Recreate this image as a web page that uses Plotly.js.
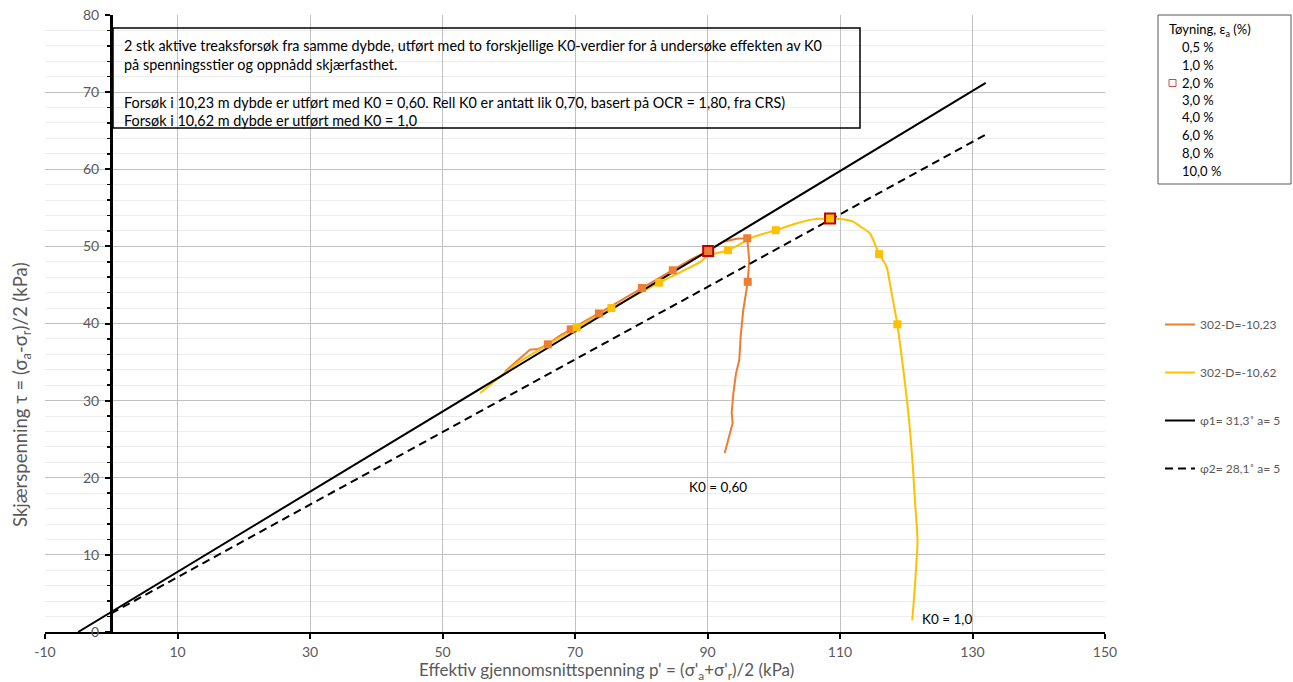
<!DOCTYPE html>
<html>
<head>
<meta charset="utf-8">
<script src="https://cdn.plot.ly/plotly-3.0.1.min.js"></script>
<style>html,body{margin:0;padding:0;background:#fff;}#chart{width:1293px;height:682px;}</style>
</head>
<body>
<div id="chart"></div>
<script>
// ---- Data ----
// 302-D=-10,23 (K0 = 0,60) stress path
const orangeP = [92.6, 93.8, 93.65, 93.9, 94.3, 94.8, 95.0, 95.4, 96.07, 96.3, 96.0, 94.4, 92.4, 90.1, 87.5, 84.75, 82.5, 80.1, 77.0, 73.6, 71.5, 69.35, 67.5, 65.9, 64.5, 63.2, 61.4, 59.4];
const orangeT = [23.2, 27.1, 28.4, 30.9, 33.5, 35.3, 38.3, 41.75, 45.4, 48.2, 51.05, 51.0, 50.6, 49.4, 48.3, 46.9, 45.8, 44.6, 43.0, 41.3, 40.3, 39.25, 38.3, 37.3, 36.7, 36.6, 35.3, 33.75];
// 302-D=-10,62 (K0 = 1,0) stress path
const yellowP = [120.9, 121.3, 121.7, 121.3, 121.0, 120.6, 120.1, 119.5, 118.65, 117.8, 117.0, 115.9, 114.5, 113.0, 112.0, 110.0, 108.5, 106.0, 103.5, 100.3, 96.9, 93.1, 90.1, 88.9, 86.0, 82.7, 79.0, 75.5, 73.0, 70.25, 66.0, 61.2, 58.0, 55.7];
const yellowT = [1.5, 5.9, 11.9, 17.1, 21.4, 25.8, 30.1, 34.4, 39.9, 43.9, 47.4, 49.0, 51.7, 52.6, 53.2, 53.55, 53.6, 53.5, 53.0, 52.1, 51.2, 49.5, 48.8, 48.0, 46.7, 45.3, 43.6, 42.0, 40.8, 39.5, 37.3, 34.8, 32.6, 31.0];
// strain levels (Tøyning, εa %)
const strainLabels = ["0,5 %", "1,0 %", "2,0 %", "3,0 %", "4,0 %", "6,0 %", "8,0 %", "10,0 %"];
const orangeMarkP = [96.07, 96.0, 90.1, 84.75, 80.1, 73.6, 69.35, 65.9];
const orangeMarkT = [45.4, 51.05, 49.4, 46.9, 44.6, 41.3, 39.25, 37.3];
const yellowMarkP = [118.65, 115.9, 108.5, 100.3, 93.1, 82.7, 75.5, 70.25];
const yellowMarkT = [39.9, 49.0, 53.6, 52.1, 49.5, 45.3, 42.0, 39.5];
// failure lines
const phi1P = [-5, 132];
const phi1T = [0, 71.2];
const phi2P = [0, 132];
const phi2T = [2.4, 64.5];
const seriesNames = ["302-D=-10,23", "302-D=-10,62", "φ1= 31,3˚ a= 5", "φ2= 28,1˚ a= 5"];
const xTicks = [-10, 10, 30, 50, 70, 90, 110, 130, 150];

// ---- Layout helpers ----
const L = 45, R = 1105, T = 15, B = 632;
const px = v => (v - L) / (R - L);
const py = v => (B - v) / (B - T);
const FONT = "Lato, 'Liberation Sans', sans-serif";
const ORANGE = "#ED7D31", YELLOW = "#FFC000", RED = "#C00000";

const idx2 = 2;
const others = [0,1,3,4,5,6,7];
const pick = (arr, ids) => ids.map(i => arr[i]);

const traces = [
  {x: orangeP, y: orangeT, mode: "lines", name: seriesNames[0], legendgroup: "a",
   line: {color: ORANGE, width: 2}},
  {x: yellowP, y: yellowT, mode: "lines", name: seriesNames[1], legendgroup: "b",
   line: {color: YELLOW, width: 2, shape: "spline", smoothing: 0.6}},
  {x: phi1P, y: phi1T, mode: "lines", name: seriesNames[2], legendgroup: "c",
   line: {color: "#000000", width: 2}},
  {x: phi2P, y: phi2T, mode: "lines", name: seriesNames[3], legendgroup: "d",
   line: {color: "#000000", width: 2, dash: "8px,5px"}},
  {x: pick(orangeMarkP, others), y: pick(orangeMarkT, others), mode: "markers", showlegend: false,
   text: pick(strainLabels, others), marker: {symbol: "square", size: 8, color: ORANGE}},
  {x: pick(yellowMarkP, others), y: pick(yellowMarkT, others), mode: "markers", showlegend: false,
   text: pick(strainLabels, others), marker: {symbol: "square", size: 8, color: YELLOW}},
  {x: [orangeMarkP[idx2]], y: [orangeMarkT[idx2]], mode: "markers", showlegend: false,
   marker: {symbol: "square", size: 10, color: ORANGE, line: {color: RED, width: 2}}},
  {x: [yellowMarkP[idx2]], y: [yellowMarkT[idx2]], mode: "markers", showlegend: false,
   marker: {symbol: "square", size: 10, color: YELLOW, line: {color: RED, width: 2}}}
];

const boxLines = [
  "2 stk aktive treaksforsøk fra samme dybde, utført med to forskjellige K0-verdier for å undersøke effekten av K0",
  "på spenningsstier og oppnådd skjærfasthet.",
  "Forsøk i 10,23 m dybde er utført med K0 = 0,60. Rell K0 er antatt lik 0,70, basert på OCR = 1,80, fra CRS)",
  "Forsøk i 10,62 m dybde er utført med K0 = 1,0"
];
const boxLineY = [45, 64, 103, 121];

const annotations = [];
boxLines.forEach((t, i) => annotations.push({
  xref: "paper", yref: "paper", x: px(122), y: py(boxLineY[i]), xanchor: "left", yanchor: "middle",
  text: t, showarrow: false, font: {family: FONT, size: 14.4, color: "#000"}
}));
annotations.push({xref: "x", yref: "y", x: 91.6, y: 18.8, text: "K0 = 0,60", showarrow: false,
  font: {family: FONT, size: 13.5, color: "#000"}});
annotations.push({xref: "x", yref: "y", x: 126.2, y: 1.7, text: "K0 = 1,0", showarrow: false,
  font: {family: FONT, size: 13.5, color: "#000"}});
// axis titles
annotations.push({xref: "paper", yref: "paper", x: px(606), y: py(671), xanchor: "center", yanchor: "middle",
  text: "Effektiv gjennomsnittspenning p' = (σ'<sub>a</sub>+σ'<sub>r</sub>)/2 (kPa)", showarrow: false,
  font: {family: FONT, size: 17, color: "#595959"}});
annotations.push({xref: "paper", yref: "paper", x: px(21), y: py(395), xanchor: "center", yanchor: "middle",
  textangle: -90, text: "Skjærspenning τ = (σ<sub>a</sub>-σ<sub>r</sub>)/2 (kPa)", showarrow: false,
  font: {family: FONT, size: 18.5, color: "#595959"}});
// strain legend
annotations.push({xref: "paper", yref: "paper", x: px(1167), y: py(30), xanchor: "left", yanchor: "middle",
  text: "Tøyning, ε<sub>a</sub> (%)", showarrow: false, font: {family: FONT, size: 13, color: "#000"}});
const strainY = [46.7, 65, 82.7, 100, 117.3, 135, 152.7, 171];
strainLabels.forEach((s, i) => annotations.push({
  xref: "paper", yref: "paper", x: px(1180), y: py(strainY[i]), xanchor: "left", yanchor: "middle",
  text: s, showarrow: false, font: {family: FONT, size: 13, color: "#000"}
}));

const shapes = [
  {type: "rect", xref: "paper", yref: "paper", x0: px(113), x1: px(860), y0: py(28), y1: py(128),
   line: {color: "#000", width: 1.5}, fillcolor: "rgba(0,0,0,0)"},
  {type: "rect", xref: "paper", yref: "paper", x0: px(1158), x1: px(1291), y0: py(15), y1: py(184),
   line: {color: "#595959", width: 1}, fillcolor: "rgba(0,0,0,0)"},
  {type: "rect", xref: "paper", yref: "paper", x0: px(1169), x1: px(1176), y0: py(79.5), y1: py(86.5),
   line: {color: "#C0504D", width: 1}, fillcolor: "rgba(0,0,0,0)"}
];

const layout = {
  width: 1293, height: 682,
  margin: {l: L, r: 1293 - R, t: T, b: 682 - B, pad: 0, autoexpand: false},
  paper_bgcolor: "#fff", plot_bgcolor: "#fff",
  font: {family: FONT},
  showlegend: true,
  legend: {x: px(1160), xanchor: "left", y: py(310), yanchor: "top", traceorder: "grouped",
    tracegroupgap: 29, bgcolor: "rgba(0,0,0,0)", font: {family: FONT, size: 12, color: "#595959"}},
  xaxis: {range: [-10, 150], tickmode: "array", tickvals: xTicks, ticktext: xTicks.map(String),
    showgrid: true, gridcolor: "#C0C0C0", gridwidth: 1, zeroline: false, automargin: false,
    showline: true, linecolor: "#000", linewidth: 2, ticks: "outside", ticklen: 5, tickwidth: 2, tickcolor: "#000",
    ticklabelstandoff: 1, tickfont: {family: FONT, size: 14, color: "#595959"}},
  yaxis: {range: [0, 80], dtick: 10, tick0: 0, showgrid: true, gridcolor: "#C0C0C0", gridwidth: 1, zeroline: false,
    anchor: "free", position: px(111), automargin: false,
    showline: true, linecolor: "#000", linewidth: 2.5, ticks: "outside", ticklen: 5, tickwidth: 2, tickcolor: "#000",
    ticklabelstandoff: 3, tickfont: {family: FONT, size: 14, color: "#595959"},
    minor: {dtick: 2, showgrid: true, gridcolor: "#EDEDED", gridwidth: 1, ticks: "outside", ticklen: 3, tickwidth: 1.5, tickcolor: "#000"}},
  annotations: annotations,
  shapes: shapes
};

Plotly.newPlot("chart", traces, layout, {displayModeBar: false, staticPlot: true});
</script>
</body>
</html>
